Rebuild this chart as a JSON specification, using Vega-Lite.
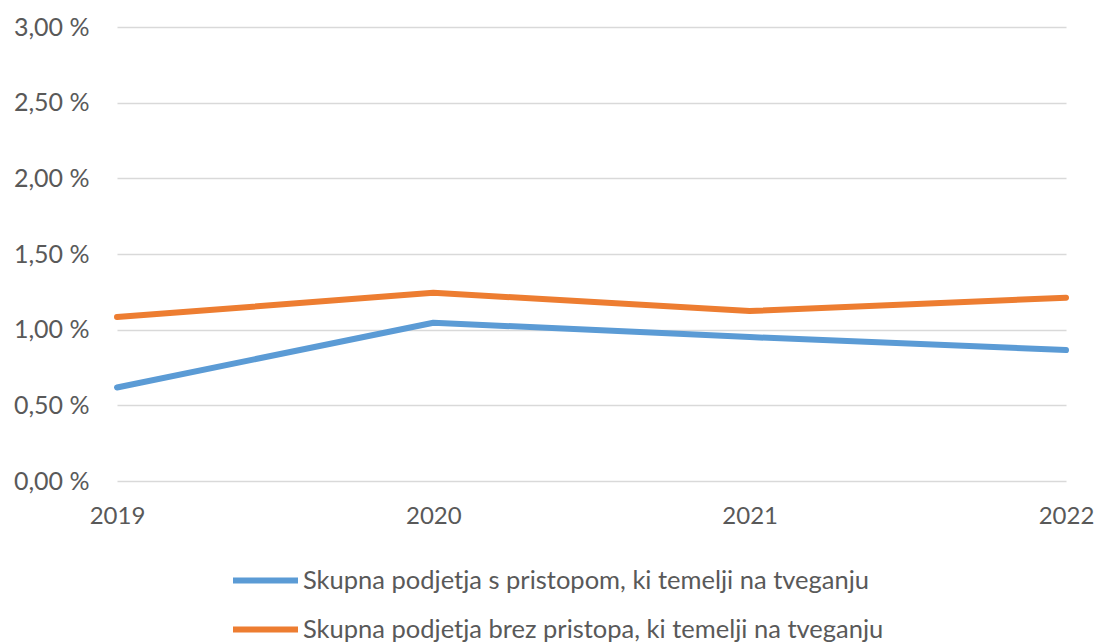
{
  "$schema": "https://vega.github.io/schema/vega-lite/v6.json",
  "autosize": "none",
  "width": 949,
  "height": 454,
  "padding": {"left": 117, "top": 27, "right": 28, "bottom": 162},
  "background": "white",
  "config": {
    "font": "Lato",
    "view": {"stroke": null}
  },
  "data": {
    "values": [
      {"year": "2019", "series": "Skupna podjetja s pristopom, ki temelji na tveganju", "value": 0.618},
      {"year": "2020", "series": "Skupna podjetja s pristopom, ki temelji na tveganju", "value": 1.046},
      {"year": "2021", "series": "Skupna podjetja s pristopom, ki temelji na tveganju", "value": 0.951},
      {"year": "2022", "series": "Skupna podjetja s pristopom, ki temelji na tveganju", "value": 0.865},
      {"year": "2019", "series": "Skupna podjetja brez pristopa, ki temelji na tveganju", "value": 1.083},
      {"year": "2020", "series": "Skupna podjetja brez pristopa, ki temelji na tveganju", "value": 1.244},
      {"year": "2021", "series": "Skupna podjetja brez pristopa, ki temelji na tveganju", "value": 1.123},
      {"year": "2022", "series": "Skupna podjetja brez pristopa, ki temelji na tveganju", "value": 1.211}
    ]
  },
  "mark": {"type": "line", "strokeWidth": 6, "strokeCap": "round", "strokeJoin": "round"},
  "encoding": {
    "x": {
      "field": "year",
      "type": "ordinal",
      "scale": {"type": "point", "padding": 0},
      "axis": {
        "title": null,
        "labelAngle": 0,
        "labelFontSize": 24,
        "labelColor": "#595959",
        "labelPadding": 23,
        "ticks": false,
        "domain": false,
        "grid": false
      }
    },
    "y": {
      "field": "value",
      "type": "quantitative",
      "scale": {"domain": [0, 3], "nice": false, "zero": true},
      "axis": {
        "title": null,
        "values": [0, 0.5, 1, 1.5, 2, 2.5, 3],
        "labelExpr": "replace(format(datum.value, '.2f'), '.', ',') + ' %'",
        "labelFontSize": 25,
        "labelColor": "#595959",
        "labelPadding": 28,
        "ticks": false,
        "domain": false,
        "grid": true,
        "gridColor": "#d9d9d9",
        "gridWidth": 1.5
      }
    },
    "color": {
      "field": "series",
      "type": "nominal",
      "scale": {
        "domain": ["Skupna podjetja s pristopom, ki temelji na tveganju", "Skupna podjetja brez pristopa, ki temelji na tveganju"],
        "range": ["#5B9BD5", "#ED7D31"]
      },
      "legend": {
        "title": null,
        "orient": "none",
        "legendX": 113,
        "legendY": 518,
        "direction": "vertical",
        "symbolType": "stroke",
        "symbolSize": 4225,
        "symbolStrokeWidth": 6,
        "labelFontSize": 25.5,
        "labelColor": "#595959",
        "labelOffset": 2,
        "labelLimit": 800,
        "rowPadding": -13
      }
    }
  }
}
